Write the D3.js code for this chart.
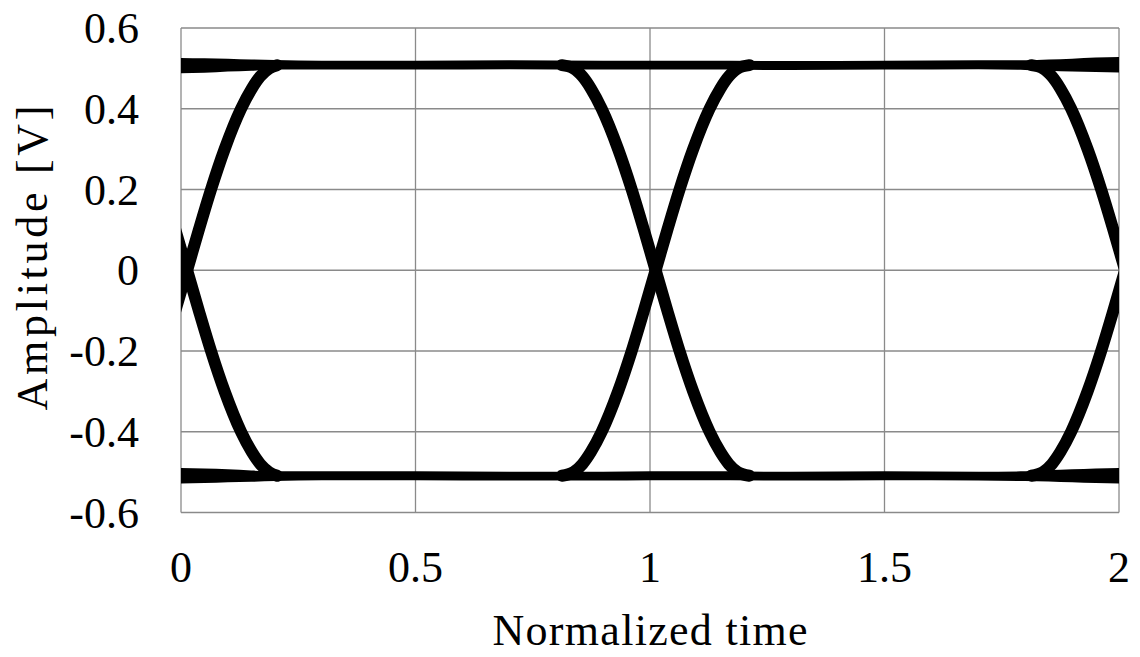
<!DOCTYPE html>
<html>
<head>
<meta charset="utf-8">
<script src="https://cdn.jsdelivr.net/npm/d3@7/dist/d3.min.js"></script>
<style>
  html, body { margin: 0; padding: 0; background: #fff; }
  svg { display: block; }
</style>
</head>
<body>
<svg id="chart" width="1140" height="657"></svg>
<script>
// ---- axis ticks ----
const xTicks = [0, 0.5, 1, 1.5, 2];
const xTickLabels = ["0", "0.5", "1", "1.5", "2"];
const yTicks = [-0.6, -0.4, -0.2, 0, 0.2, 0.4, 0.6];
const yTickLabels = ["-0.6", "-0.4", "-0.2", "0", "0.2", "0.4", "0.6"];
const xTitle = "Normalized time";
const yTitle = "Amplitude [V]";

// ---- logic-level rails (centre and half-thickness of the dot band) ----
const railTime   = [0, 0.05, 0.1, 0.15, 0.2, 0.3, 0.5, 0.7, 0.9, 1.0, 1.1, 1.3, 1.5, 1.7, 1.8, 1.85, 1.9, 1.95, 2.0];
const highLevel  = [0.507, 0.507, 0.508, 0.508, 0.509, 0.508, 0.508, 0.509, 0.508, 0.508, 0.508, 0.507, 0.508, 0.509, 0.508, 0.508, 0.508, 0.509, 0.509];
const lowLevel   = [-0.509, -0.509, -0.509, -0.51, -0.51, -0.509, -0.509, -0.51, -0.51, -0.509, -0.509, -0.51, -0.509, -0.51, -0.51, -0.509, -0.509, -0.509, -0.509];
const railSpread = [0.019, 0.018, 0.016, 0.014, 0.012, 0.011, 0.011, 0.011, 0.011, 0.011, 0.011, 0.011, 0.011, 0.011, 0.012, 0.014, 0.016, 0.018, 0.019];

// ---- transitions (time, amplitude) ----
const riseStartTime  = [-0.038, -0.012, 0.013, 0.038, 0.064, 0.093, 0.128, 0.151, 0.169, 0.188, 0.205];
const riseStartAmp   = [-0.2, -0.1, 0, 0.1, 0.2, 0.3, 0.4, 0.45, 0.48, 0.5, 0.508];
const fallStartTime  = [-0.038, -0.012, 0.013, 0.038, 0.064, 0.093, 0.128, 0.151, 0.169, 0.188, 0.205];
const fallStartAmp   = [0.2, 0.1, 0, -0.1, -0.2, -0.3, -0.4, -0.45, -0.48, -0.5, -0.509];

const riseMidTime = [0.812, 0.837, 0.856, 0.874, 0.897, 0.932, 0.961, 0.987, 1.012, 1.037, 1.063, 1.092, 1.127, 1.150, 1.168, 1.187, 1.212];
const riseMidAmp  = [-0.509, -0.5, -0.48, -0.45, -0.4, -0.3, -0.2, -0.1, 0, 0.1, 0.2, 0.3, 0.4, 0.45, 0.48, 0.5, 0.508];
const fallMidTime = [0.812, 0.837, 0.856, 0.874, 0.897, 0.932, 0.961, 0.987, 1.012, 1.037, 1.063, 1.092, 1.127, 1.150, 1.168, 1.187, 1.212];
const fallMidAmp  = [0.508, 0.5, 0.48, 0.45, 0.4, 0.3, 0.2, 0.1, 0, -0.1, -0.2, -0.3, -0.4, -0.45, -0.48, -0.5, -0.509];

const riseEndTime = [1.813, 1.838, 1.857, 1.875, 1.898, 1.933, 1.962, 1.988, 2.013, 2.038];
const riseEndAmp  = [-0.509, -0.5, -0.48, -0.45, -0.4, -0.3, -0.2, -0.1, 0, 0.1];
const fallEndTime = [1.813, 1.838, 1.857, 1.875, 1.898, 1.933, 1.962, 1.988, 2.013, 2.038];
const fallEndAmp  = [0.508, 0.5, 0.48, 0.45, 0.4, 0.3, 0.2, 0.1, 0, -0.1];

// ---- layout ----
const FONT = "'Liberation Serif', 'Times New Roman', serif";
const plot = { left: 181, right: 1119, top: 28, bottom: 512.5 };
const svg = d3.select("#chart");

const x = d3.scaleLinear().domain([0, 2]).range([plot.left, plot.right]);
const y = d3.scaleLinear().domain([-0.6, 0.6]).range([plot.bottom, plot.top]);

const gridColor = "#8a8a8a";

// grid lines
svg.append("g").selectAll("line").data(xTicks).join("line")
  .attr("x1", d => x(d)).attr("x2", d => x(d))
  .attr("y1", plot.top).attr("y2", plot.bottom)
  .attr("stroke", gridColor).attr("stroke-width", 1.3);
svg.append("g").selectAll("line").data(yTicks).join("line")
  .attr("x1", plot.left).attr("x2", plot.right)
  .attr("y1", d => y(d)).attr("y2", d => y(d))
  .attr("stroke", gridColor).attr("stroke-width", 1.3);

// clip
svg.append("clipPath").attr("id", "clip").append("rect")
  .attr("x", plot.left).attr("y", plot.top)
  .attr("width", plot.right - plot.left).attr("height", plot.bottom - plot.top);

const marks = svg.append("g").attr("clip-path", "url(#clip)");

// rails
const railArea = levels => d3.area()
  .x((d, i) => x(railTime[i]))
  .y0((d, i) => y(levels[i] - railSpread[i]))
  .y1((d, i) => y(levels[i] + railSpread[i]))
  .curve(d3.curveMonotoneX);

[highLevel, lowLevel].forEach(levels => {
  marks.append("path").datum(levels)
    .attr("d", railArea(levels))
    .attr("fill", "#000");
});

// transitions
const edges = [
  [riseStartTime, riseStartAmp], [fallStartTime, fallStartAmp],
  [riseMidTime, riseMidAmp], [fallMidTime, fallMidAmp],
  [riseEndTime, riseEndAmp], [fallEndTime, fallEndAmp]
];
const edgeLine = d3.line().x(d => x(d[0])).y(d => y(d[1])).curve(d3.curveMonotoneX);
edges.forEach(([ts, vs]) => {
  const pts = ts.map((t, i) => [t, vs[i]]);
  marks.append("path").datum(pts)
    .attr("d", edgeLine)
    .attr("fill", "none")
    .attr("stroke", "#000")
    .attr("stroke-width", 12)
    .attr("stroke-linecap", "round")
    .attr("stroke-linejoin", "round");
});

// tick labels
svg.append("g").selectAll("text").data(yTicks).join("text")
  .attr("x", 139).attr("y", d => y(d) + 15)
  .attr("text-anchor", "end")
  .attr("font-family", FONT)
  .attr("font-size", 44)
  .attr("fill", "#000")
  .text((d, i) => yTickLabels[i]);

svg.append("g").selectAll("text").data(xTicks).join("text")
  .attr("x", d => x(d)).attr("y", 582)
  .attr("text-anchor", "middle")
  .attr("font-family", FONT)
  .attr("font-size", 44)
  .attr("fill", "#000")
  .text((d, i) => xTickLabels[i]);

// axis titles
svg.append("text")
  .attr("x", 650).attr("y", 645)
  .attr("text-anchor", "middle")
  .attr("font-family", FONT)
  .attr("font-size", 44)
  .attr("fill", "#000")
  .attr("textLength", 315)
  .attr("lengthAdjust", "spacing")
  .text(xTitle);

svg.append("text")
  .attr("transform", "translate(47,258) rotate(-90)")
  .attr("text-anchor", "middle")
  .attr("font-family", FONT)
  .attr("font-size", 44)
  .attr("fill", "#000")
  .attr("textLength", 305)
  .attr("lengthAdjust", "spacing")
  .text(yTitle);
</script>
</body>
</html>
